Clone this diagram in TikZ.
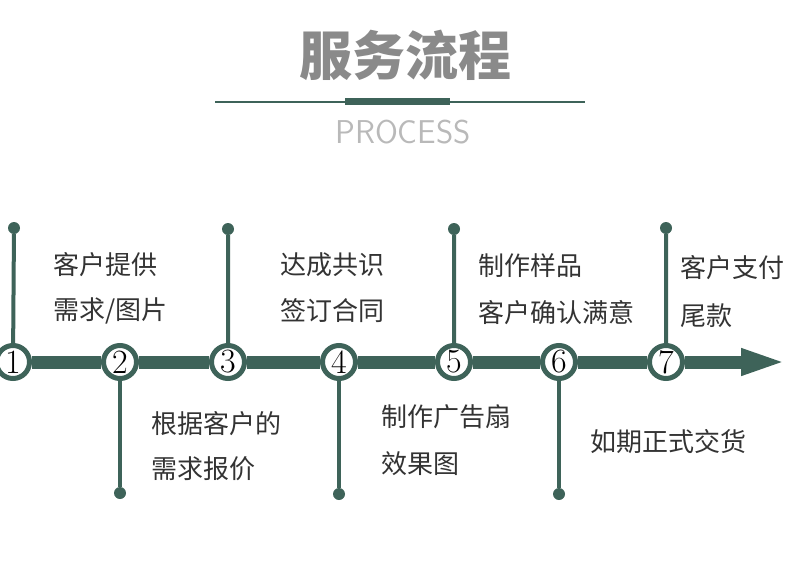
\documentclass[tikz,border=0pt]{standalone}
\usepackage{fontspec}
\usetikzlibrary{arrows.meta}
\newfontfamily\cjk{Noto Sans CJK SC}
\definecolor{pine}{RGB}{62,99,89}
\definecolor{titlegray}{RGB}{138,138,138}
\begin{document}
\begin{tikzpicture}[x=1pt,y=-1pt,
    stepnum/.style={circle,draw=pine,line width=5pt,fill=white,minimum size=33pt,inner sep=0pt,font=\fontsize{34}{34}\selectfont},
    stepdot/.style={circle,fill=pine,minimum size=12pt,inner sep=0pt},
    steptext/.style={anchor=west,font=\cjk\fontsize{26}{26}\selectfont,text=black!80},
    bar/.style={pine,line width=13pt},
    stem/.style={pine,line width=4pt}]
\useasboundingbox (0,0) rectangle (790,579);
% heading
\node[font=\cjk\bfseries\fontsize{53}{53}\selectfont,text=titlegray] (title) at (405,55) {服务流程};
\coordinate (rulea) at (215,102);
\coordinate (ruleb) at (585,102);
\draw[pine,line width=2pt] (rulea) -- (ruleb);
\fill[pine] (345,98) rectangle (450,105);
\node[font=\sffamily\fontsize{33}{33}\selectfont\addfontfeatures{LetterSpace=12},text=gray!55] (proc) at (403,132) {PROCESS};
% steps
\node[stepnum] (c1) at (13,362) {1};
\node[stepnum] (c2) at (120,362) {2};
\node[stepnum] (c3) at (228,362) {3};
\node[stepnum] (c4) at (339,362) {4};
\node[stepnum] (c5) at (454,362) {5};
\node[stepnum] (c6) at (559,362) {6};
\node[stepnum] (c7) at (666,362) {7};
\coordinate (head) at (787,362);
\draw[bar] (c1) -- (c2) (c2) -- (c3) (c3) -- (c4) (c4) -- (c5) (c5) -- (c6) (c6) -- (c7);
\draw[bar,-{Triangle[length=46pt,width=24pt]}] (c7) -- (head);
% stems
\node[stepdot] (d1) at (14,228) {};
\node[stepdot] (d3) at (228,229) {};
\node[stepdot] (d5) at (454,229) {};
\node[stepdot] (d7) at (666,228) {};
\node[stepdot] (d2) at (120,493) {};
\node[stepdot] (d4) at (339,494) {};
\node[stepdot] (d6) at (559,494) {};
\draw[stem] (d1) -- (c1) (d3) -- (c3) (d5) -- (c5) (d7) -- (c7);
\draw[stem] (d2) -- (c2) (d4) -- (c4) (d6) -- (c6);
% labels
\node[steptext] (t1a) at (50,265) {客户提供};
\node[steptext] (t1b) at (50,311) {需求/图片};
\node[steptext] (t3a) at (277,265) {达成共识};
\node[steptext] (t3b) at (277,311) {签订合同};
\node[steptext] (t5a) at (475,266) {制作样品};
\node[steptext] (t5b) at (475,313) {客户确认满意};
\node[steptext] (t7a) at (677,268) {客户支付};
\node[steptext] (t7b) at (677,316) {尾款};
\node[steptext] (t2a) at (148,424) {根据客户的};
\node[steptext] (t2b) at (148,469) {需求报价};
\node[steptext] (t4a) at (378,417) {制作广告扇};
\node[steptext] (t4b) at (378,464) {效果图};
\node[steptext] (t6) at (587,442) {如期正式交货};
\end{tikzpicture}
\end{document}
